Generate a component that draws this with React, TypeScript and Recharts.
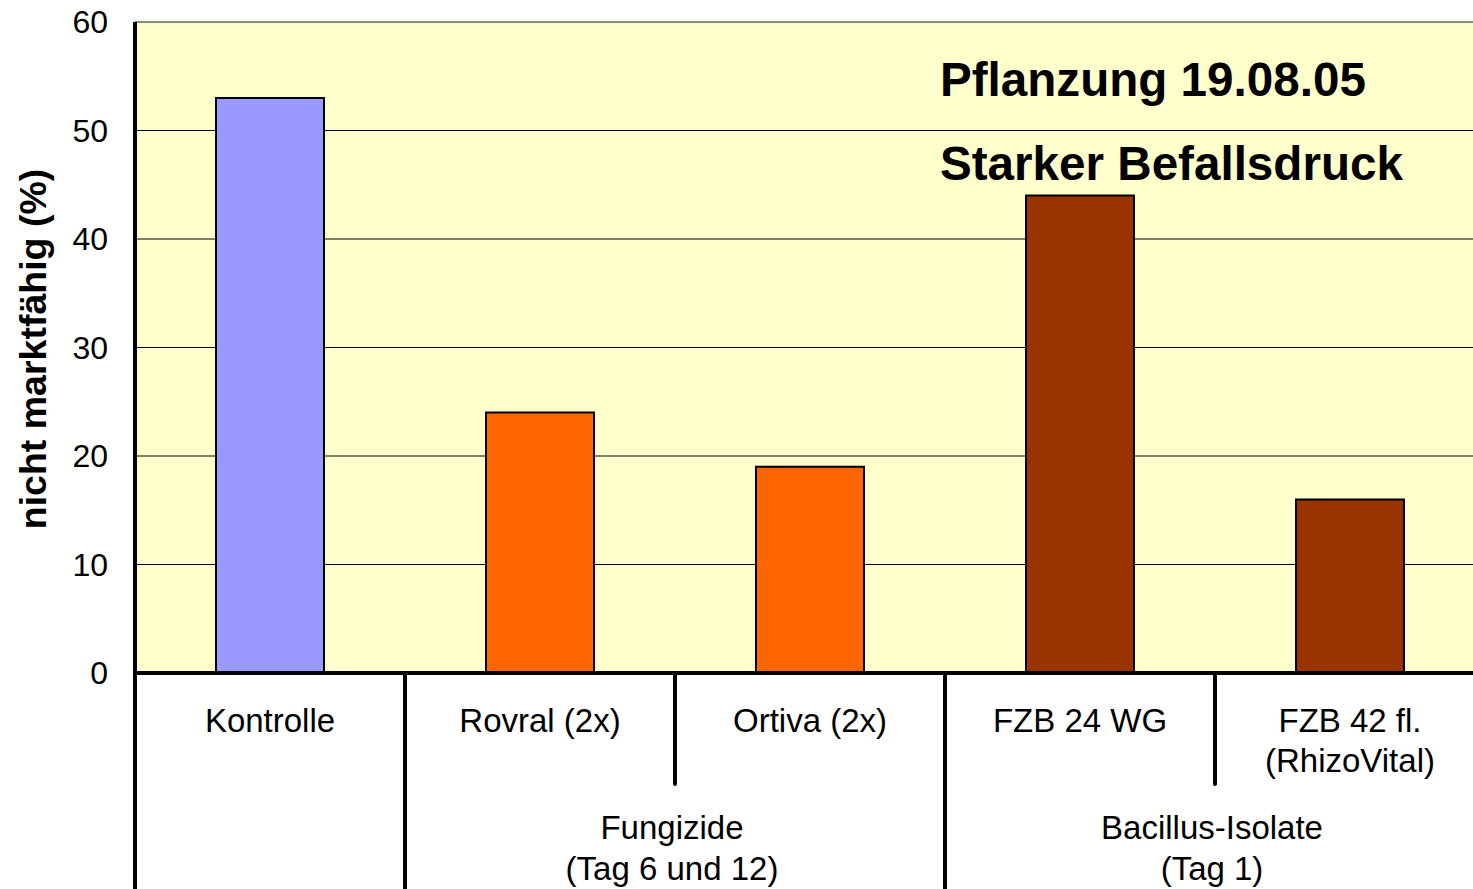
import React from "react";
import { BarChart, Bar, XAxis, YAxis, CartesianGrid, Cell, Customized, ReferenceLine } from "recharts";

// ---- data ----
const categories = ["Kontrolle", "Rovral (2x)", "Ortiva (2x)", "FZB 24 WG", "FZB 42 fl.|(RhizoVital)"];
const values = [53, 24, 19, 44, 16];
const groupOf = ["", "Fungizide|(Tag 6 und 12)", "Fungizide|(Tag 6 und 12)", "Bacillus-Isolate|(Tag 1)", "Bacillus-Isolate|(Tag 1)"];
const barColors = ["#9999FF", "#FF6600", "#FF6600", "#993300", "#993300"];
const yTicks = [0, 10, 20, 30, 40, 50, 60];
const titleLines = ["Pflanzung 19.08.05", "Starker Befallsdruck"];

const chartData = categories.map((c, i) => ({ name: c, value: values[i], color: barColors[i], group: groupOf[i] }));

const FONT = "'Liberation Sans', Arial, sans-serif";
const PLOT_LEFT = 135;
const PLOT_TOP = 22;
const PLOT_W = 1350;
const PLOT_H = 651;
const PLOT_BOTTOM = PLOT_TOP + PLOT_H;
const BAND = PLOT_W / categories.length;
const CHART_W = 1500;
const CHART_H = 960;

function CategoryTick(props: any) {
  const { x, index, payload } = props;
  const left = x - BAND / 2;
  const grp = groupOf[index];
  const first = index === 0 || groupOf[index - 1] !== grp;
  const lines = String(payload.value).split("|");
  let groupLabel = null;
  if (first && grp) {
    let n = 0;
    while (groupOf[index + n] === grp) n++;
    const cx = x + ((n - 1) * BAND) / 2 - 3;
    groupLabel = grp.split("|").map((l, k) => (
      <text key={k} x={cx} y={839 + k * 41} textAnchor="middle" fontSize={33} fontFamily={FONT} fill="#000">
        {l}
      </text>
    ));
  }
  return (
    <g>
      <line
        x1={left}
        x2={left}
        y1={PLOT_BOTTOM}
        y2={first ? CHART_H : 784}
        stroke="#000"
        strokeWidth={4}
        strokeLinecap="round"
      />
      {lines.map((l, k) => (
        <text key={k} x={x} y={732 + k * 40} textAnchor="middle" fontSize={33} fontFamily={FONT} fill="#000">
          {l}
        </text>
      ))}
      {groupLabel}
    </g>
  );
}

function Overlay() {
  return (
    <g>
      {titleLines.map((t, i) => (
        <text key={i} x={940} y={96 + i * 84} fontSize={47.6} fontWeight="bold" fontFamily={FONT} fill="#000">
          {t}
        </text>
      ))}
      <text
        x={0}
        y={0}
        transform={`translate(46, 349) rotate(-90)`}
        textAnchor="middle"
        fontSize={37.5}
        fontWeight="bold"
        fontFamily={FONT}
        fill="#000"
      >
        nicht marktfähig (%)
      </text>
    </g>
  );
}

export default function App() {
  return (
    <div
      style={{
        position: "absolute",
        left: 0,
        top: 0,
        width: 1473,
        height: 889,
        overflow: "hidden",
        background: "#fff",
        fontFamily: FONT,
      }}
    >
      <BarChart
        width={CHART_W}
        height={CHART_H}
        data={chartData}
        margin={{ top: PLOT_TOP, right: CHART_W - PLOT_LEFT - PLOT_W, left: 0, bottom: 0 }}
        barCategoryGap="30%"
      >
        <CartesianGrid vertical={false} stroke="#000" strokeWidth={1} fill="#FFFFCC" fillOpacity={1} />
        <ReferenceLine y={60} stroke="#8c8c8c" strokeWidth={2} />
        <XAxis
          dataKey="name"
          interval={0}
          height={CHART_H - PLOT_BOTTOM}
          axisLine={{ stroke: "#000", strokeWidth: 4 }}
          tickLine={false}
          tickSize={0}
          tick={<CategoryTick />}
        />
        <YAxis
          width={PLOT_LEFT}
          domain={[0, 60]}
          ticks={yTicks}
          axisLine={{ stroke: "#000", strokeWidth: 4 }}
          tickLine={false}
          tickSize={0}
          tickMargin={27}
          tick={{ fill: "#000", fontSize: 32, fontFamily: FONT }}
        />
        <Bar dataKey="value" stroke="#000" strokeWidth={2} isAnimationActive={false}>
          {chartData.map((d, i) => (
            <Cell key={i} fill={d.color} />
          ))}
        </Bar>
        <Customized component={Overlay} />
      </BarChart>
    </div>
  );
}
